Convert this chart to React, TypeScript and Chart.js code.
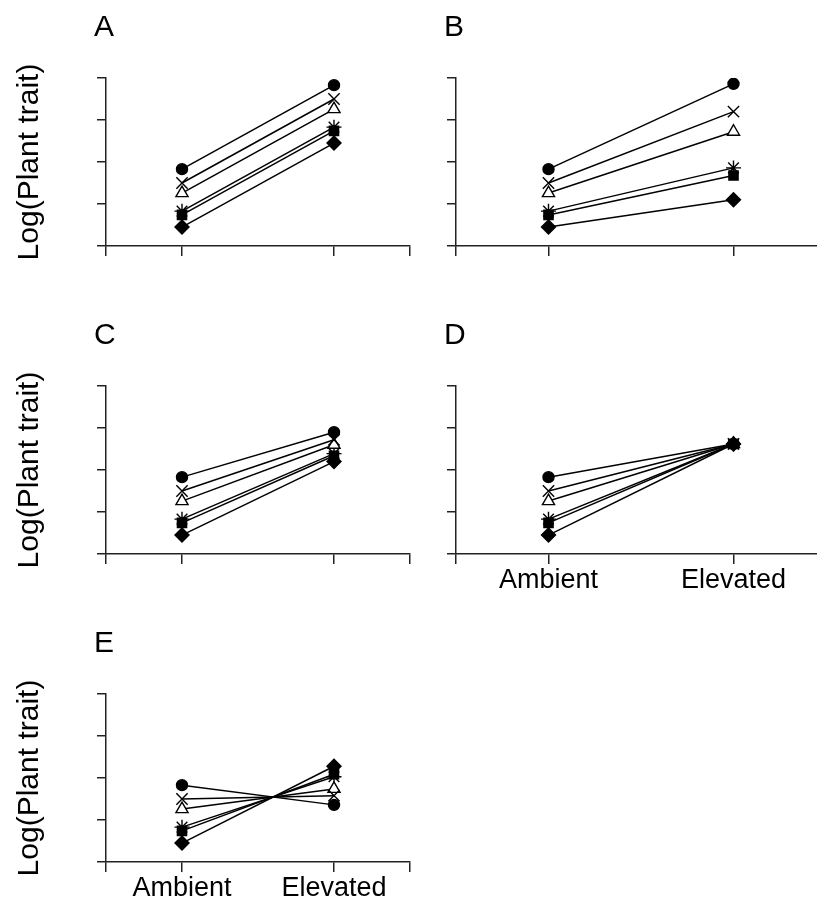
import React, { useEffect, useRef } from 'react';
import { Chart, registerables } from 'chart.js';

Chart.register(...registerables);

// ---- data ----
const conditions = ['Ambient', 'Elevated'];
const conditionPositions = [1, 3];
const xTickValues = [0, 1, 3, 4];
const seriesNames = ['Circle', 'Cross', 'Triangle', 'Star', 'Square', 'Diamond'];
const ambient = [1.83, 1.5, 1.26, 0.83, 0.74, 0.45];
const elevatedA = [3.83, 3.5, 3.26, 2.83, 2.74, 2.45];
const elevatedB = [3.86, 3.2, 2.72, 1.86, 1.68, 1.1];
const elevatedC = [2.9, 2.72, 2.6, 2.39, 2.34, 2.2];
const elevatedD = [2.62, 2.62, 2.62, 2.62, 2.62, 2.62];
const elevatedE = [1.36, 1.58, 1.74, 2.03, 2.09, 2.28];
const panelLetters = ['A', 'B', 'C', 'D', 'E'];
const yAxisTitle = 'Log(Plant trait)';

// ---- styles ----
const FONT = "'Liberation Sans', Arial, sans-serif";
const markerStyles = ['circle', 'crossRot', 'triangle', 'star', 'rect', 'rectRot'];
const markerRadii = [5.5, 8, 7, 7.5, 6.5, 7];
const markerFills = ['#000', '#000', '#fff', '#000', '#000', '#000'];

type PanelProps = {
  letter: string;
  elevated: number[];
  left: number;
  top: number;
  width: number;
  height: number;
  yAxisWidth: number;
  showYTitle: boolean;
  showXLabels: boolean;
};

function Panel(p: PanelProps) {
  const ref = useRef<HTMLCanvasElement | null>(null);
  useEffect(() => {
    if (!ref.current) return;
    const plotTop = 78;
    const plotBottom = 246;
    const chart = new Chart(ref.current, {
      type: 'line',
      data: {
        datasets: seriesNames.map((name, i) => ({
          label: name,
          data: conditionPositions.map((x, j) => ({ x, y: j === 0 ? ambient[i] : p.elevated[i] })),
          borderColor: '#000',
          borderWidth: 1.5,
          pointStyle: markerStyles[i] as any,
          pointRadius: markerRadii[i],
          pointBackgroundColor: markerFills[i],
          pointBorderColor: '#000',
          pointBorderWidth: 1.4,
          tension: 0,
          fill: false,
        })),
      },
      options: {
        responsive: false,
        animation: false,
        devicePixelRatio: 1,
        layout: { padding: { left: 0, right: 10, top: plotTop, bottom: 0 } },
        plugins: {
          legend: { display: false },
          tooltip: { enabled: false },
          title: { display: false },
        },
        scales: {
          x: {
            type: 'linear',
            min: 0,
            max: 4,
            afterBuildTicks: (s: any) => {
              s.ticks = xTickValues.map((v) => ({ value: v }));
            },
            afterFit: (s: any) => {
              s.height = p.height - plotBottom;
            },
            ticks: {
              autoSkip: false,
              maxRotation: 0,
              padding: 0,
              color: '#000',
              font: { family: FONT, size: 27 },
              callback: (v: any) => {
                const idx = conditionPositions.indexOf(Number(v));
                return p.showXLabels && idx >= 0 ? conditions[idx] : '';
              },
            },
            grid: { drawOnChartArea: false, drawTicks: true, tickLength: 10, color: '#222', lineWidth: 1.5 },
            border: { display: true, color: '#222', width: 1.5 },
          },
          y: {
            type: 'linear',
            min: 0,
            max: 4,
            ticks: { display: false, stepSize: 1 },
            afterFit: (s: any) => {
              s.width = p.yAxisWidth;
            },
            grid: { drawOnChartArea: false, drawTicks: true, tickLength: 9, color: '#222', lineWidth: 1.5 },
            border: { display: true, color: '#222', width: 1.5 },
            title: {
              display: p.showYTitle,
              text: yAxisTitle,
              color: '#000',
              font: { family: FONT, size: 30 },
              padding: { top: 12, bottom: 0 },
            },
          },
        },
      },
    });
    return () => chart.destroy();
  }, []);
  return (
    <>
      <canvas
        ref={ref}
        width={p.width}
        height={p.height}
        style={{ position: 'absolute', left: p.left, top: p.top, width: p.width, height: p.height }}
      />
      <div
        style={{
          position: 'absolute',
          left: p.left + p.yAxisWidth - 12,
          top: p.top + 11,
          fontFamily: FONT,
          fontSize: 30,
          lineHeight: 1,
          color: '#000',
        }}
      >
        {p.letter}
      </div>
    </>
  );
}

export default function App() {
  const elevatedSets = [elevatedA, elevatedB, elevatedC, elevatedD, elevatedE];
  const layout = [
    { left: 0, top: 0, width: 420, yAxisWidth: 106, showYTitle: true, showXLabels: false },
    { left: 420, top: 0, width: 416, yAxisWidth: 36, showYTitle: false, showXLabels: false },
    { left: 0, top: 308, width: 420, yAxisWidth: 106, showYTitle: true, showXLabels: false },
    { left: 420, top: 308, width: 416, yAxisWidth: 36, showYTitle: false, showXLabels: true },
    { left: 0, top: 616, width: 420, yAxisWidth: 106, showYTitle: true, showXLabels: true },
  ];
  return (
    <div
      style={{
        position: 'fixed',
        left: 0,
        top: 0,
        width: 817,
        height: 900,
        overflow: 'hidden',
        background: '#fff',
      }}
    >
      {layout.map((l, i) => (
        <Panel
          key={i}
          letter={panelLetters[i]}
          elevated={elevatedSets[i]}
          height={300}
          {...l}
        />
      ))}
    </div>
  );
}
